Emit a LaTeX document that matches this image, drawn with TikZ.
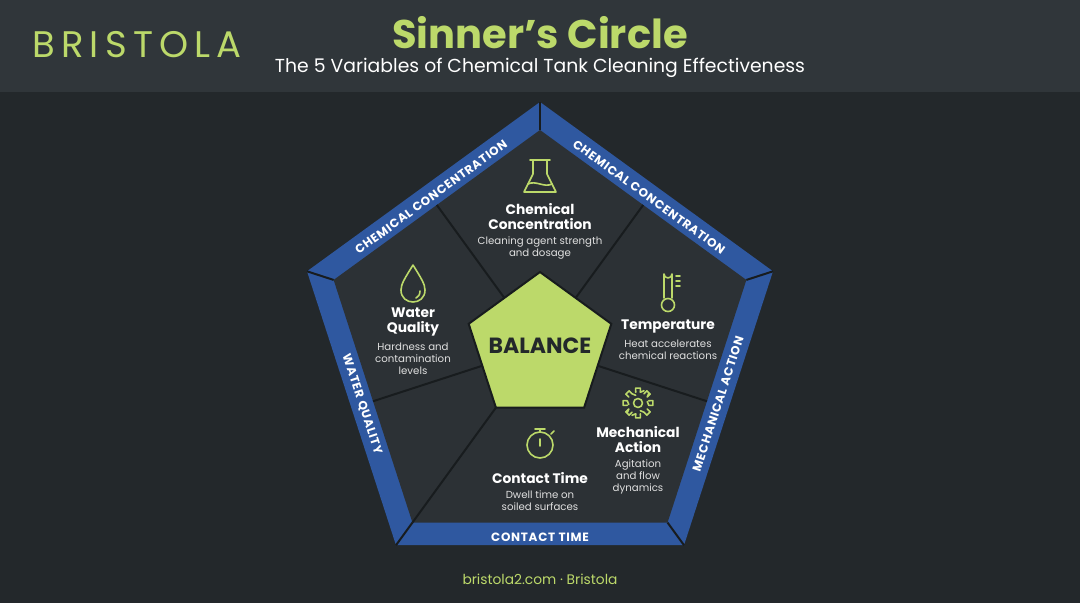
\documentclass[tikz,border=0pt]{standalone}
\usepackage{fontspec}
\setmainfont{Poppins}
\usetikzlibrary{positioning,calc}
\definecolor{bgdark}{HTML}{23282B}
\definecolor{bghead}{HTML}{30363A}
\definecolor{lime}{HTML}{BCD96A}
\definecolor{bandblue}{HTML}{2F58A0}
\definecolor{slate}{HTML}{2C3135}
\definecolor{seam}{HTML}{181C1E}
\tikzset{
  head/.style={text=white, font=\fontsize{13.8}{15}\selectfont\bfseries, align=center},
  desc/.style={text=white!88!black, font=\fontsize{10.2}{12}\selectfont, align=center},
  band/.style={text=white, font=\fontsize{12}{12}\selectfont\bfseries\addfontfeature{LetterSpace=6}, inner sep=0pt},
  icon/.style={draw=lime, line width=1.6pt, line cap=round, line join=round}
}
\begin{document}
\begin{tikzpicture}[x=1pt,y=-1pt]

\fill[bgdark] (0,0) rectangle (1080,603);
\fill[bghead] (0,0) rectangle (1080,92);
\useasboundingbox (0,0) rectangle (1080,603);

% header
\node[text=lime, font=\fontsize{37}{37}\selectfont] (brand) at (137,45) {B\,R\,I\,S\,T\,O\,L\,A};
\node[text=lime, font=\fontsize{40}{40}\selectfont\bfseries] (title) at (540,33) {Sinner’s Circle};
\node[text=white, font=\fontsize{18.8}{20}\selectfont] (subtitle) at (540,68) {The 5 Variables of Chemical Tank Cleaning Effectiveness};

% pentagons
\coordinate (c) at (540,347);
\foreach \i/\a in {1/90,2/18,3/-54,4/-126,5/-198} {
  \coordinate (o\i) at ($(c)+({245*cos(\a)},{-245*sin(\a)})$);
  \coordinate (n\i) at ($(c)+({217*cos(\a)},{-217*sin(\a)})$);
  \coordinate (g\i) at ($(c)+({75*cos(\a)},{-75*sin(\a)})$);
}
\fill[bandblue] (o1)--(o2)--(o3)--(o4)--(o5)--cycle;
\fill[slate] (n1)--(n2)--(n3)--(n4)--(n5)--cycle;
\foreach \i in {1,...,5} \draw[seam, line width=2pt] (o\i)--(n\i);

% dividers
\draw[seam, line width=2pt] ($(g1)!0.5!(g5)$) -- ($(n1)!0.5!(n5)$);
\draw[seam, line width=2pt] ($(g1)!0.5!(g2)$) -- ($(n1)!0.5!(n2)$);
\draw[seam, line width=2pt] ($(g2)!0.5!(g3)$) -- ($(n2)!0.5!(n3)$);
\draw[seam, line width=2pt] ($(g4)!0.5!(g5)$) -- ($(n4)!0.5!(n5)$);
\draw[seam, line width=2pt] (g4) -- (n4);

\fill[lime, draw=seam, line width=2pt] (g1)--(g2)--(g3)--(g4)--(g5)--cycle;
\node[text=bgdark, font=\fontsize{22}{22}\selectfont\bfseries] (balance) at (540,346) {BALANCE};

% band labels
\node[band, rotate=36] (bandcc1) at (431,197) {CHEMICAL CONCENTRATION};
\node[band, rotate=-36] (bandcc2) at (649,197) {CHEMICAL CONCENTRATION};
\node[band, rotate=72] (bandma) at (718,404) {MECHANICAL ACTION};
\node[band, rotate=-72] (bandwq) at (362,404) {WATER QUALITY};
\node[band] (bandct) at (540,537) {CONTACT TIME};

% sector texts
\node[head] (chem) at (540,217) {Chemical\\Concentration};
\node[desc, below=0pt of chem] (chemd) {Cleaning agent strength\\and dosage};
\node[head] (water) at (413,322) {Water\\Quality};
\node[desc, below=0pt of water] (waterd) {Hardness and\\contamination\\levels};
\node[head] (temp) at (668,326) {Temperature};
\node[desc, below=0pt of temp] (tempd) {Heat accelerates\\chemical reactions};
\node[head] (mech) at (638,440) {Mechanical\\Action};
\node[desc, below=0pt of mech] (mechd) {Agitation\\and flow\\dynamics};
\node[head] (contact) at (540,478) {Contact Time};
\node[desc, below=0pt of contact] (contactd) {Dwell time on\\soiled surfaces};

% icons
\draw[icon] (533,160)--(533,174)--(524,192)--(556,192)--(547,174)--(547,160);
\draw[icon] (530,160)--(550,160);
\draw[icon] (528,184) .. controls (536,180) and (544,188) .. (552,184);
\draw[icon] (413,265) .. controls (405,278) and (401,284) .. (401,290)
  .. controls (401,306) and (425,306) .. (425,290) .. controls (425,284) and (421,278) .. (413,265);
\draw[icon] (420,291) .. controls (420,295) and (418,297) .. (416,298);
\draw[icon] (664,298)--(664,274) arc (180:0:4) -- (672,298);
\draw[icon] (668,305) circle (6.5);
\draw[icon] (676,276)--(680,276) (676,281)--(680,281) (676,286)--(680,286);
\draw[icon] (638,403) circle (4.5);
\draw[icon] \foreach \k in {0,45,...,315} {
  ($(638,403)+({\k-12}:11)$) -- ($(638,403)+({\k-9}:15)$) -- ($(638,403)+({\k+9}:15)$) -- ($(638,403)+({\k+12}:11)$)
  arc[start angle=-\k-12, end angle=-\k-33, radius=11]
};
\draw[icon] (540,445) circle (13);
\draw[icon] (535,429)--(545,429) (540,429)--(540,432) (540,439)--(540,446);
\draw[icon] (551,434)--(554,431);

% footer
\node[text=lime, font=\fontsize{13.8}{15}\selectfont] (footer) at (540,579) {bristola2.com · Bristola};

\end{tikzpicture}
\end{document}
